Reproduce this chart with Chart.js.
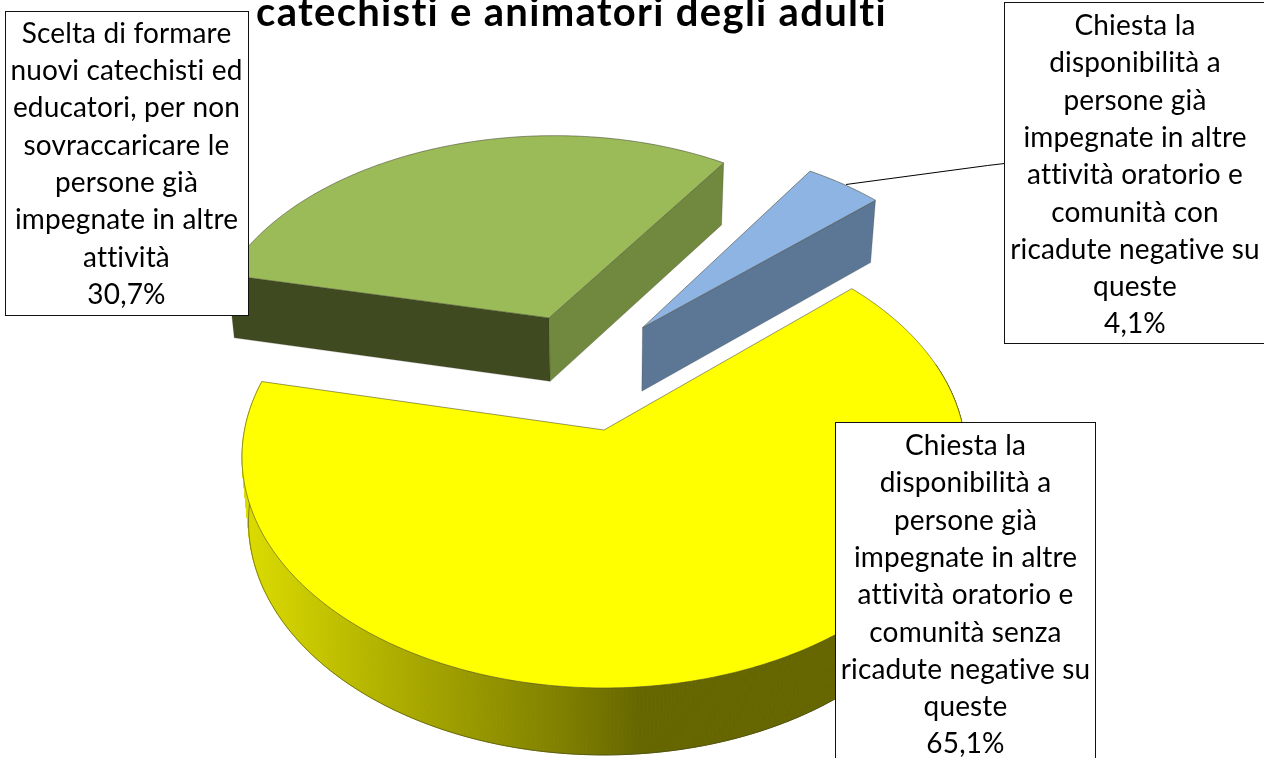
<!DOCTYPE html>
<html><head><meta charset="utf-8">
<style>html,body{margin:0;padding:0;background:#fff;overflow:hidden}canvas{display:block}</style>
<script src="https://cdn.jsdelivr.net/npm/chart.js@4"></script>
</head><body><canvas id="c" width="1264" height="758"></canvas>
<script>
const titleText = "catechisti e animatori degli adulti";
const categories = [
  ["Chiesta la","disponibilità a","persone già","impegnate in altre","attività oratorio e","comunità senza","ricadute negative su","queste"],
  ["Scelta di formare","nuovi catechisti ed","educatori, per non","sovraccaricare le","persone già","impegnate in altre","attività"],
  ["Chiesta la","disponibilità a","persone già","impegnate in altre","attività oratorio e","comunità con","ricadute negative su","queste"]
];
const values = [65.1, 30.7, 4.1];
const topColors = ["#ffff00", "#9bbb59", "#8db4e2"];
const startWallColors = [null, "#3f4a20", null];
const endWallColors = [null, "#71883f", "#5c7695"];
const explodeU = [0, -0.162, 0.113];
const explodeV = [0, -0.522, -0.474];
const drawOrder = [1, 2, 0];
const labelBoxes = [
  {x:835.5, y:422.5, w:260, h:360, cx:965.5, base:455},
  {x:5.5, y:11.5, w:243, h:304, cx:126.5, base:42.7},
  {x:1004.5, y:2.5, w:280, h:341, cx:1135, base:35}
];
const view = {x0:604, y0:430, a:359.5, b:0.1169, c:227.8, lean:0.018, depthA:46, depthB:18.5};
const font = "Lato, 'Open Sans', sans-serif";
const fontSize = 28, lineStep = 37.3;

function project(u, v){
  const w = 1 - view.b * v;
  return {x: view.x0 + view.a * u / w, y: view.y0 + view.c * v / w, w};
}
function drop(p){
  return {x: view.x0 + (p.x - view.x0) * (1 - view.lean), y: p.y + view.depthA + view.depthB / p.w};
}
function rimPoints(arc, i){
  const n = Math.max(2, Math.ceil((arc.endAngle - arc.startAngle) / 0.01));
  const pts = [];
  for (let k = 0; k <= n; k++){
    const a = arc.startAngle + (arc.endAngle - arc.startAngle) * k / n;
    pts.push(Object.assign(project(explodeU[i] + Math.cos(a), explodeV[i] + Math.sin(a)), {front: Math.sin(a) > -0.3}));
  }
  return pts;
}
function poly(ctx, pts){
  ctx.beginPath();
  pts.forEach((p, k) => k ? ctx.lineTo(p.x, p.y) : ctx.moveTo(p.x, p.y));
  ctx.closePath();
}
function wallGradient(ctx){
  const g = ctx.createLinearGradient(245, 0, 640, 0);
  g.addColorStop(0, "#dcdc00");
  g.addColorStop(0.39, "#acac00");
  g.addColorStop(0.80, "#808000");
  g.addColorStop(1, "#666600");
  return g;
}
const pie3d = {
  id: "pie3d",
  beforeDraw(chart){
    chart.ctx.letterSpacing = "1.3px";
  },
  beforeDatasetsDraw(chart){
    const ctx = chart.ctx;
    const arcs = chart.getDatasetMeta(0).data;
    ctx.save();
    ctx.lineJoin = "round";
    drawOrder.forEach(i => {
      const arc = arcs[i];
      const rim = rimPoints(arc, i);
      const apex = project(explodeU[i], explodeV[i]);
      if (i === 0){
        const g = wallGradient(ctx);
        ctx.fillStyle = g; ctx.strokeStyle = g; ctx.lineWidth = 1;
        for (let k = 0; k < rim.length - 1; k++){
          if (!rim[k].front) continue;
          poly(ctx, [rim[k], rim[k+1], drop(rim[k+1]), drop(rim[k])]);
          ctx.fill(); ctx.stroke();
        }
        ctx.beginPath();
        let on = false;
        rim.forEach(p => { if (!p.front) return; const d = drop(p); on ? ctx.lineTo(d.x, d.y) : ctx.moveTo(d.x, d.y); on = true; });
        ctx.strokeStyle = "rgba(70,70,30,.75)"; ctx.lineWidth = 0.8; ctx.stroke();
      }
      [[startWallColors[i], rim[0]], [endWallColors[i], rim[rim.length-1]]].forEach(([col, corner]) => {
        if (!col) return;
        poly(ctx, [apex, corner, drop(corner), drop(apex)]);
        ctx.fillStyle = col; ctx.fill();
        ctx.strokeStyle = "rgba(40,40,30,.35)"; ctx.lineWidth = 0.6; ctx.stroke();
      });
      poly(ctx, [apex].concat(rim));
      ctx.fillStyle = topColors[i]; ctx.fill();
      ctx.strokeStyle = "rgba(70,70,50,.7)"; ctx.lineWidth = 0.8; ctx.stroke();
    });
    ctx.restore();
    return false;
  },
  afterDraw(chart){
    const ctx = chart.ctx;
    const arcs = chart.getDatasetMeta(0).data;
    ctx.save();
    const blue = arcs[2];
    const mid = (blue.startAngle + blue.endAngle) / 2;
    const s = project(explodeU[2] + Math.cos(mid), explodeV[2] + Math.sin(mid));
    const box = labelBoxes[2];
    ctx.beginPath();
    ctx.moveTo(s.x + 2, s.y);
    ctx.lineTo(box.x - 17, 165.5);
    ctx.lineTo(box.x, 163.5);
    ctx.strokeStyle = "#000"; ctx.lineWidth = 1; ctx.stroke();
    categories.forEach((lines, i) => {
      const b = labelBoxes[i];
      ctx.fillStyle = "#fff"; ctx.strokeStyle = "#111"; ctx.lineWidth = 1;
      ctx.fillRect(b.x, b.y, b.w, b.h); ctx.strokeRect(b.x, b.y, b.w, b.h);
      ctx.fillStyle = "#000";
      ctx.font = fontSize + "px " + font;
      ctx.letterSpacing = "0.15px";
      ctx.textAlign = "center"; ctx.textBaseline = "alphabetic";
      const all = lines.concat(values[i].toFixed(1).replace(".", ",") + "%");
      all.forEach((t, k) => ctx.fillText(t, b.cx, b.base + k * lineStep));
    });
    ctx.restore();
  }
};
new Chart(document.getElementById("c"), {
  type: "pie",
  data: {labels: categories.map(l => l.join(" ")), datasets: [{data: values, backgroundColor: topColors}]},
  options: {
    responsive: false, animation: false, rotation: 48,
    layout: {padding: {right: 121}},
    plugins: {
      legend: {display: false}, tooltip: {enabled: false},
      title: {display: true, text: titleText, color: "#000", align: "center",
        font: {family: font, size: 40, weight: "bold", lineHeight: 0.6}, padding: {top: 1, bottom: 0}}
    }
  },
  plugins: [pie3d]
});
</script></body></html>
